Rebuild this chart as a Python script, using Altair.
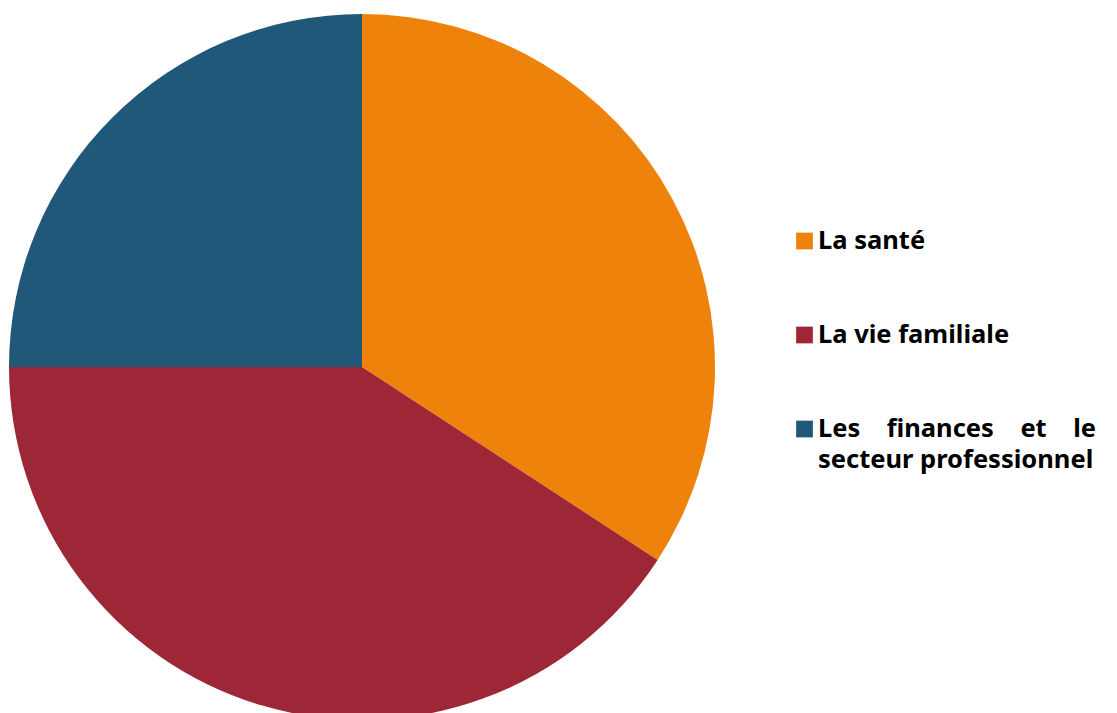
import altair as alt
import pandas as pd

categories = ["La santé", "La vie familiale", "Les finances et le secteur professionnel"]
shares = [34.2, 40.8, 25.0]
labels = [
    "La santé",
    "La vie familiale",
    "Les\u00a0\u00a0\u00a0\u00a0finances\u00a0\u00a0\u00a0\u00a0et\u00a0\u00a0\u00a0\u00a0le\nsecteur professionnel",
]
colors = ["#ee820b", "#9e2737", "#1f5878"]

df = pd.DataFrame({
    "category": categories,
    "share": shares,
    "label": labels,
    "order": list(range(len(categories))),
})

color_scale = alt.Scale(domain=categories, range=colors)

pie = alt.Chart(df).mark_arc().encode(
    theta=alt.Theta("share:Q", stack=True),
    order=alt.Order("order:Q"),
    color=alt.Color("category:N", scale=color_scale, legend=None),
    x=alt.value(354),
    y=alt.value(359),
    radius=alt.value(353),
)

ypos = alt.Y("category:N", sort=categories, axis=None,
             scale=alt.Scale(type="point", domain=categories, range=[241, 429], padding=0))

symbols = alt.Chart(df).mark_square(size=280, yOffset=-8, opacity=1).encode(
    x=alt.value(796.5),
    y=ypos,
    color=alt.Color("category:N", scale=color_scale, legend=None),
)

texts = alt.Chart(df).mark_text(
    align="left", baseline="alphabetic", font="Noto Sans", fontWeight="bold",
    fontSize=25.5, lineBreak="\n", lineHeight=31, color="#000000",
).encode(
    x=alt.value(810),
    y=ypos,
    text="label:N",
)

chart = alt.layer(pie, symbols, texts).properties(
    width=1101, height=705, padding=0,
    autosize=alt.AutoSizeParams(type="none"),
).configure_view(stroke=None)

chart.save("out.html", embed_options={"renderer": "svg", "actions": False})
